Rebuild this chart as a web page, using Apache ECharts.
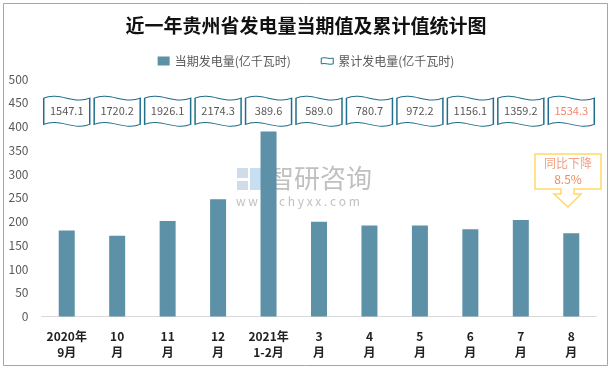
<!DOCTYPE html>
<html><head><meta charset="utf-8">
<script src="https://cdn.jsdelivr.net/npm/echarts@6/dist/echarts.min.js"></script>
<style>html,body{margin:0;padding:0;background:#fff}#c{width:612px;height:371px}</style>
</head><body><div id="c"></div>
<script>
const categories = ['2020年\n9月','10\n月','11\n月','12\n月','2021年\n1-2月','3\n月','4\n月','5\n月','6\n月','7\n月','8\n月'];
const currentValues = [181, 170, 201, 247, 389.6, 199.4, 191.7, 191.5, 183.9, 203.1, 175.1];
const cumulativeValues = ['1547.1','1720.2','1926.1','2174.3','389.6','589.0','780.7','972.2','1156.1','1359.2','1534.3'];
const yTicks = [0,50,100,150,200,250,300,350,400,450,500];
const seriesNames = ['当期发电量(亿千瓦时)','累计发电量(亿千瓦时)'];
const noteLines = ['同比下降','8.5%'];

const FLAG = 'path://M0,6 C33,-6 67,18 100,6 L100,54 C67,66 33,42 0,54 Z';
const FLAG_Y = 432;
const font = '"Noto Sans CJK SC","Liberation Sans",sans-serif';

const chart = echarts.init(document.getElementById('c'), null, {renderer:'canvas'});
chart.setOption({
  animation:false,
  backgroundColor:'#fff',
  title:{text:'近一年贵州省发电量当期值及累计值统计图',left:'center',top:11,
    textStyle:{fontFamily:font,fontSize:19,fontWeight:'bold',color:'#111'}},
  legend:{top:50,left:'center',itemGap:30,itemWidth:12,itemHeight:9,
    textStyle:{fontFamily:font,fontSize:12,color:'#595959'},
    data:[{name:seriesNames[0],icon:'rect',itemStyle:{color:'#5D91A7'}},
          {name:seriesNames[1],icon:FLAG,itemStyle:{color:'#fff',borderColor:'#1F6E8C',borderWidth:1}}]},
  grid:{left:41.5,right:15.5,top:79,bottom:54.5},
  xAxis:{type:'category',data:categories,
    axisLine:{lineStyle:{color:'#D9D9D9'}},axisTick:{show:false},
    axisLabel:{interval:0,fontFamily:font,fontSize:12,fontWeight:'bold',color:'#222',lineHeight:16,margin:12}},
  yAxis:{type:'value',min:yTicks[0],max:yTicks[yTicks.length-1],interval:50,
    axisLine:{show:false},axisTick:{show:false},splitLine:{show:false},
    axisLabel:{fontFamily:font,fontSize:12,color:'#595959',margin:13}},
  series:[
    {name:seriesNames[0],type:'bar',data:currentValues,barWidth:16,itemStyle:{color:'#5D91A7'}},
    {name:seriesNames[1],type:'scatter',symbol:FLAG,symbolSize:[46,30],symbolKeepAspect:false,
      itemStyle:{color:'#fff',borderColor:'#1F6E8C',borderWidth:1.2,opacity:1},
      data:cumulativeValues.map((v,i)=>({value:[i,FLAG_Y],label:{color:i===cumulativeValues.length-1?'#F4866A':'#595959'}})),
      label:{show:true,position:'inside',fontFamily:font,fontSize:11,
        formatter:p=>cumulativeValues[p.dataIndex]},
      z:5}
  ],
  graphic:[
    {type:'rect',shape:{x:3.5,y:3.5,width:604,height:362},style:{fill:'none',stroke:'#A6A6A6',lineWidth:1},silent:true},
    {type:'group',z:20,silent:true,children:[
      {type:'rect',shape:{x:237,y:168,width:11,height:10},style:{fill:'rgba(190,205,225,0.7)'}},
      {type:'rect',shape:{x:250,y:168,width:11,height:22},style:{fill:'rgba(175,210,235,0.7)'}},
      {type:'rect',shape:{x:237,y:181,width:11,height:9},style:{fill:'rgba(190,205,225,0.7)'}},
      {type:'text',x:268,y:165,style:{text:'智研咨询',font:'26px '+font,fill:'rgba(150,150,150,0.6)'}},
      {type:'text',x:236,y:195,style:{text:'w w w . c h y x x . c o m',font:'12px '+font,fill:'rgba(150,150,150,0.6)'}}
    ]},
    {type:'polygon',shape:{points:[[535,154],[601,154],[601,189],[574,189],[574,194],[581,194],[568,207],[554,194],[561,194],[561,189],[535,189]]},
      style:{fill:'#fff',stroke:'#FFD966',lineWidth:1.5},z:10},
    {type:'text',x:568,y:157,style:{text:noteLines[0],font:'12px '+font,fill:'#F4A083',align:'center'},z:11},
    {type:'text',x:568,y:173,style:{text:noteLines[1],font:'12px '+font,fill:'#EE8B63',align:'center'},z:11}
  ]
});
</script></body></html>
